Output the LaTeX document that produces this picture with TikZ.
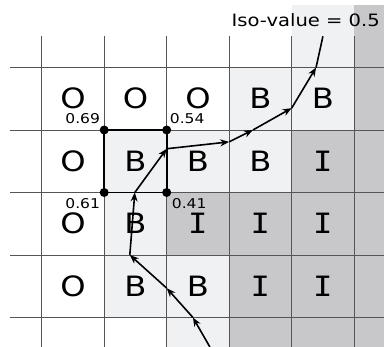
\documentclass[tikz,border=0pt]{standalone}
\usepackage{fontspec}
\setmainfont{DejaVu Sans}[FakeStretch=1.15]
\newfontfamily\monoI{DejaVu Sans Mono}[FakeStretch=1.15]
\usetikzlibrary{arrows.meta}
\definecolor{lightc}{HTML}{F0F1F3}
\definecolor{darkc}{HTML}{C8C8CA}
\definecolor{gridc}{HTML}{555555}
\newcommand{\Ibar}{{\monoI I}}

\begin{document}
\begin{tikzpicture}[x=62.5pt, y=-62.5pt, >={Stealth[length=9pt, width=7pt]},
      gridline/.style={gridc, line width=0.8pt},
      cell/.style={font=\fontsize{28}{28}\selectfont},
      val/.style={font=\fontsize{13.5}{13.5}\selectfont, inner sep=0pt},
      dot/.style={circle, fill=black, minimum size=9pt, inner sep=0pt},
      curve/.style={line width=1.6pt}]
    \useasboundingbox (-0.667,-1.08) rectangle (5.477,4.472);
    \clip (-0.667,-1.08) rectangle (5.477,4.472);
    \foreach \c/\r in {4/-1, 3/0, 4/0, 1/1, 2/1, 3/1, 1/2, 1/3, 2/3, 2/4}
      \fill[lightc] (\c,\r) rectangle ++(1,1);
    \foreach \c/\r in {5/-1, 5/0, 5/1, 5/2, 5/3, 5/4, 4/1, 2/2, 3/2, 4/2,
                       3/3, 4/3, 3/4, 4/4}
      \fill[darkc] (\c,\r) rectangle ++(1,1);
    \foreach \r in {0,...,4}
      \draw[gridline] (-0.5,\r) -- (5.6,\r);
    \foreach \c in {0,...,5}
      \draw[gridline] (\c,-0.5) -- (\c,4.6);
    \foreach \r/\row in {0/{O,O,O,B,B}, 1/{O,B,B,B,\Ibar},
                         2/{O,B,\Ibar,\Ibar,\Ibar}, 3/{O,B,B,\Ibar,\Ibar}}
      \foreach \t [count=\c from 0] in \row
        \node[cell] (l\c\r) at (\c+0.5,\r+0.5) {\t};
    \coordinate (ul) at (1,1);
    \coordinate (ur) at (2,1);
    \coordinate (ll) at (1,2);
    \coordinate (lr) at (2,2);
    \draw[line width=1.8pt] (ul) -- (ur) -- (lr) -- (ll) -- cycle;
    \foreach \n in {ul,ur,ll,lr}
      \node[dot] (d\n) at (\n) {};
    \node[val, anchor=base east, xshift=-4pt, yshift=6pt] (v69) at (ul) {0.69};
    \node[val, anchor=base west, xshift=3pt, yshift=6pt] (v54) at (ur) {0.54};
    \node[val, anchor=base east, xshift=-4pt, yshift=-16.5pt] (v61) at (ll) {0.61};
    \node[val, anchor=base west, xshift=5pt, yshift=-16.5pt] (v41) at (lr) {0.41};
    \foreach \n/\p in {0/{2.69,4.47}, 1/{2.42,4.0}, 2/{2.0,3.53}, 3/{1.41,3.0},
                       4/{1.49,2.0}, 5/{2.0,1.30}, 6/{3.0,1.19}, 7/{3.38,1.0},
                       8/{4.0,0.65}, 9/{4.39,0.0}, 10/{4.5,-0.5}}
      \coordinate (p\n) at (\p);
    \foreach \a/\b in {0/1, 1/2, 2/3, 3/4, 4/5, 5/6, 6/7, 7/8, 8/9}
      \draw[->, curve] (p\a) -- (p\b);
    \draw[curve] (p9) -- (p10);
    \node[font=\fontsize{17}{17}\selectfont, anchor=base east, inner sep=0pt]
      (iso) at (5.413,-0.648) {Iso-value = 0.5};
  \end{tikzpicture}
\end{document}
